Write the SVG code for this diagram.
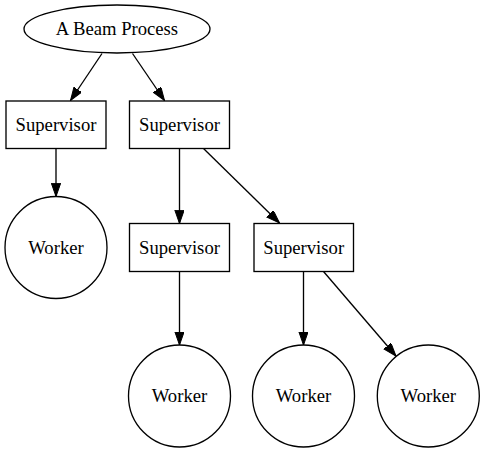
<svg xmlns="http://www.w3.org/2000/svg" width="483" height="452" viewBox="0 0 483 452">
<style>
.n{fill:#fff;stroke:#000;stroke-width:1.33}
.t{font-family:"Liberation Serif","Times New Roman",serif;font-size:18.67px;text-anchor:middle;fill:#000}
.e{stroke:#000;stroke-width:1.33;fill:none}
</style>
<defs>
<marker id="ah" markerWidth="14" markerHeight="10" refX="13.3" refY="4.67" orient="auto" markerUnits="userSpaceOnUse">
<path d="M0,0 L13.3,4.67 L0,9.33 Z" fill="#000" stroke="#000" stroke-width="1"/>
</marker>
</defs>
<rect width="483" height="452" fill="#fff"/>
<g id="connectors">
<line class="e" x1="102" y1="53.5" x2="70.5" y2="100.5" marker-end="url(#ah)"/>
<line class="e" x1="132.5" y1="53.5" x2="164.5" y2="100.5" marker-end="url(#ah)"/>
<line class="e" x1="56" y1="148.5" x2="56" y2="196.5" marker-end="url(#ah)"/>
<line class="e" x1="179.5" y1="148.5" x2="179.5" y2="223.5" marker-end="url(#ah)"/>
<line class="e" x1="203.5" y1="148.5" x2="279.5" y2="223" marker-end="url(#ah)"/>
<line class="e" x1="179.5" y1="271.5" x2="179.5" y2="345" marker-end="url(#ah)"/>
<line class="e" x1="303.5" y1="271.5" x2="303.5" y2="345" marker-end="url(#ah)"/>
<line class="e" x1="323.5" y1="271.5" x2="396" y2="356" marker-end="url(#ah)"/>
</g>
<g id="beam">
<ellipse class="n" cx="117" cy="29" rx="93" ry="24"/>
<text class="t" x="117" y="35">A Beam Process</text>
</g>
<g id="sup1">
<rect class="n" x="6" y="101" width="100" height="47.5"/>
<text class="t" x="56" y="130.5">Supervisor</text>
</g>
<g id="sup2">
<rect class="n" x="129.5" y="101" width="100" height="47.5"/>
<text class="t" x="179.5" y="130.5">Supervisor</text>
</g>
<g id="worker1">
<circle class="n" cx="56" cy="247.5" r="51"/>
<text class="t" x="56" y="253.5">Worker</text>
</g>
<g id="sup3">
<rect class="n" x="129.5" y="223.5" width="100" height="48"/>
<text class="t" x="179.5" y="253.5">Supervisor</text>
</g>
<g id="sup4">
<rect class="n" x="254" y="223.5" width="99.5" height="48"/>
<text class="t" x="303.7" y="253.5">Supervisor</text>
</g>
<g id="worker2">
<circle class="n" cx="179.5" cy="396" r="51"/>
<text class="t" x="179.5" y="402">Worker</text>
</g>
<g id="worker3">
<circle class="n" cx="303.5" cy="396" r="51"/>
<text class="t" x="303.5" y="402">Worker</text>
</g>
<g id="worker4">
<circle class="n" cx="428.3" cy="396" r="51"/>
<text class="t" x="428.3" y="402">Worker</text>
</g>
</svg>
